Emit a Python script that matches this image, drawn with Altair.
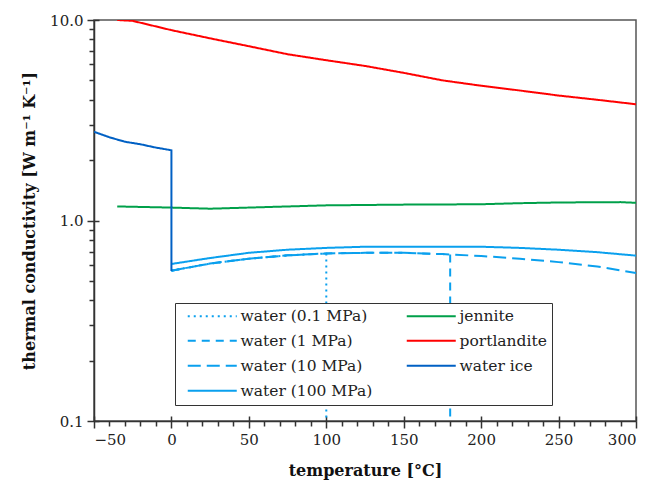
import altair as alt
import pandas as pd

# ---------------- data ----------------
ice_T = [-50, -40, -30, -20, -10, 0, 0]
ice_k = [2.77, 2.60, 2.47, 2.40, 2.31, 2.24, 0.56]

jennite_T = [-35, 0, 25, 50, 75, 100, 150, 200, 225, 250, 290, 300]
jennite_k = [1.175, 1.16, 1.145, 1.16, 1.175, 1.19, 1.20, 1.205, 1.22, 1.23, 1.235, 1.225]

portlandite_T = [-35, -25, 0, 25, 50, 75, 100, 125, 150, 175, 200, 225, 250, 275, 300]
portlandite_k = [10.0, 9.9, 8.9, 8.1, 7.4, 6.75, 6.3, 5.9, 5.45, 5.0, 4.7, 4.45, 4.2, 4.0, 3.8]

w100_T = [0, 25, 50, 75, 100, 125, 150, 175, 200, 225, 250, 275, 300]
w100_k = [0.607, 0.65, 0.69, 0.715, 0.73, 0.74, 0.74, 0.74, 0.74, 0.73, 0.715, 0.695, 0.668]

w10_T = [0, 25, 50, 75, 100, 125, 150, 175, 200, 225, 250, 275, 300]
w10_k = [0.562, 0.61, 0.645, 0.67, 0.685, 0.69, 0.69, 0.68, 0.665, 0.645, 0.62, 0.59, 0.547]

w1_T = [0, 25, 50, 75, 100, 125, 150, 175, 180, 180]
w1_k = [0.562, 0.61, 0.645, 0.67, 0.685, 0.69, 0.69, 0.68, 0.678, 0.1]

w01_T = [0, 25, 50, 75, 100, 100]
w01_k = [0.562, 0.61, 0.645, 0.67, 0.685, 0.1]

series_order = ["water (0.1 MPa)", "water (1 MPa)", "water (10 MPa)", "water (100 MPa)",
                "jennite", "portlandite", "water ice"]
series_colors = ["#0aa0ee", "#0aa0ee", "#0aa0ee", "#0aa0ee", "#00a04a", "#ff0000", "#0060c4"]
series_dash = [[2, 4], [8, 6], [13, 6], [1, 0], [1, 0], [1, 0], [1, 0]]
series_width = [2, 2, 2, 3.5, 2, 2, 3.5]

x_major = [-50, 0, 50, 100, 150, 200, 250, 300]
x_minor = [t for t in range(-50, 301, 10) if t % 50 != 0]
y_major = [0.1, 1, 10]
y_minor = [0.2, 0.3, 0.4, 0.5, 0.6, 0.7, 0.8, 0.9, 2, 3, 4, 5, 6, 7, 8, 9]

# ---------------- table ----------------
rows = []
def add(name, T, k):
    for i, (t, v) in enumerate(zip(T, k)):
        rows.append({"series": name, "T": t, "k": v, "idx": i})

add("jennite", jennite_T, jennite_k)
add("portlandite", portlandite_T, portlandite_k)
add("water (10 MPa)", w10_T, w10_k)
add("water (1 MPa)", w1_T, w1_k)
add("water (0.1 MPa)", w01_T, w01_k)
add("water (100 MPa)", w100_T, w100_k)
add("water ice", ice_T, ice_k)
df = pd.DataFrame(rows)

FONT = "DejaVu Serif"
TICK = "#333333"
TW = 1.5
xscale = alt.Scale(domain=[-50, 300], nice=False)
yscale = alt.Scale(type="log", domain=[0.1, 10], nice=False)

legend = alt.Legend(
    title=None, orient="none", legendX=81, legendY=283, columns=2,
    symbolType="M0,0H31", symbolSize=10, labelFont=FONT, labelFontSize=15.5,
    labelColor="#222222", strokeColor="#333333", fillColor="white",
    padding=5, columnPadding=26, rowPadding=8, labelOffset=45,
)

base = alt.Chart(df)

lines = base.mark_line(clip=True).encode(
    x=alt.X("T:Q", scale=xscale,
            axis=alt.Axis(title="temperature [°C]", values=x_major, tickSize=7, ticks=True,
                          format="d", labelOverlap=False, orient="bottom")),
    y=alt.Y("k:Q", scale=yscale,
            axis=alt.Axis(title="thermal conductivity [W m⁻¹ K⁻¹]", values=y_major, ticks=True,
                          tickSize=7, format=".1f", labelOverlap=False, orient="left")),
    color=alt.Color("series:N", scale=alt.Scale(domain=series_order, range=series_colors), legend=legend),
    strokeDash=alt.StrokeDash("series:N", scale=alt.Scale(domain=series_order, range=series_dash), legend=legend),
    strokeWidth=alt.StrokeWidth("series:N", scale=alt.Scale(domain=series_order, range=series_width), legend=legend),
    detail="series:N",
    order="idx:Q",
)

# minor ticks (outside)
minor = base.mark_line(opacity=0).encode(
    x=alt.X("T:Q", scale=xscale,
            axis=alt.Axis(title=None, values=x_minor, tickSize=5, labels=False, ticks=True,
                          domain=False, orient="bottom")),
    y=alt.Y("k:Q", scale=yscale,
            axis=alt.Axis(title=None, values=y_minor, tickSize=5, labels=False, ticks=True,
                          domain=False, orient="left")),
    detail="series:N",
)

# inner half of the major ticks (crossing the axis line)
inner = base.mark_line(opacity=0).encode(
    x=alt.X("T:Q", scale=xscale,
            axis=alt.Axis(title=None, values=x_major, tickSize=5, labels=False, ticks=True,
                          domain=False, orient="bottom", offset=-5)),
    y=alt.Y("k:Q", scale=yscale,
            axis=alt.Axis(title=None, values=y_major, tickSize=5, labels=False, ticks=True,
                          domain=False, orient="left", offset=-5)),
    detail="series:N",
)

chart = alt.layer(lines, minor, inner).resolve_axis(
    x="independent", y="independent"
).properties(
    width=542, height=401,
    autosize=alt.AutoSizeParams(type="none"),
    padding={"left": 94, "top": 20, "right": 26, "bottom": 65},
).configure_view(
    stroke="#555555", strokeWidth=1.5
).configure_axis(
    labelFont=FONT, labelFontSize=15, labelColor="#222222",
    titleFont=FONT, titleFontSize=16, titleFontWeight="bold", titleColor="#111111",
    domainColor="#333333", domainWidth=1.5, tickColor=TICK, tickWidth=TW,
    grid=False, labelPadding=4,
).configure_axisX(
    titlePadding=15,
).configure_axisY(
    titlePadding=12,
)

chart.save("out.html", embed_options={"renderer": "svg", "actions": False})
